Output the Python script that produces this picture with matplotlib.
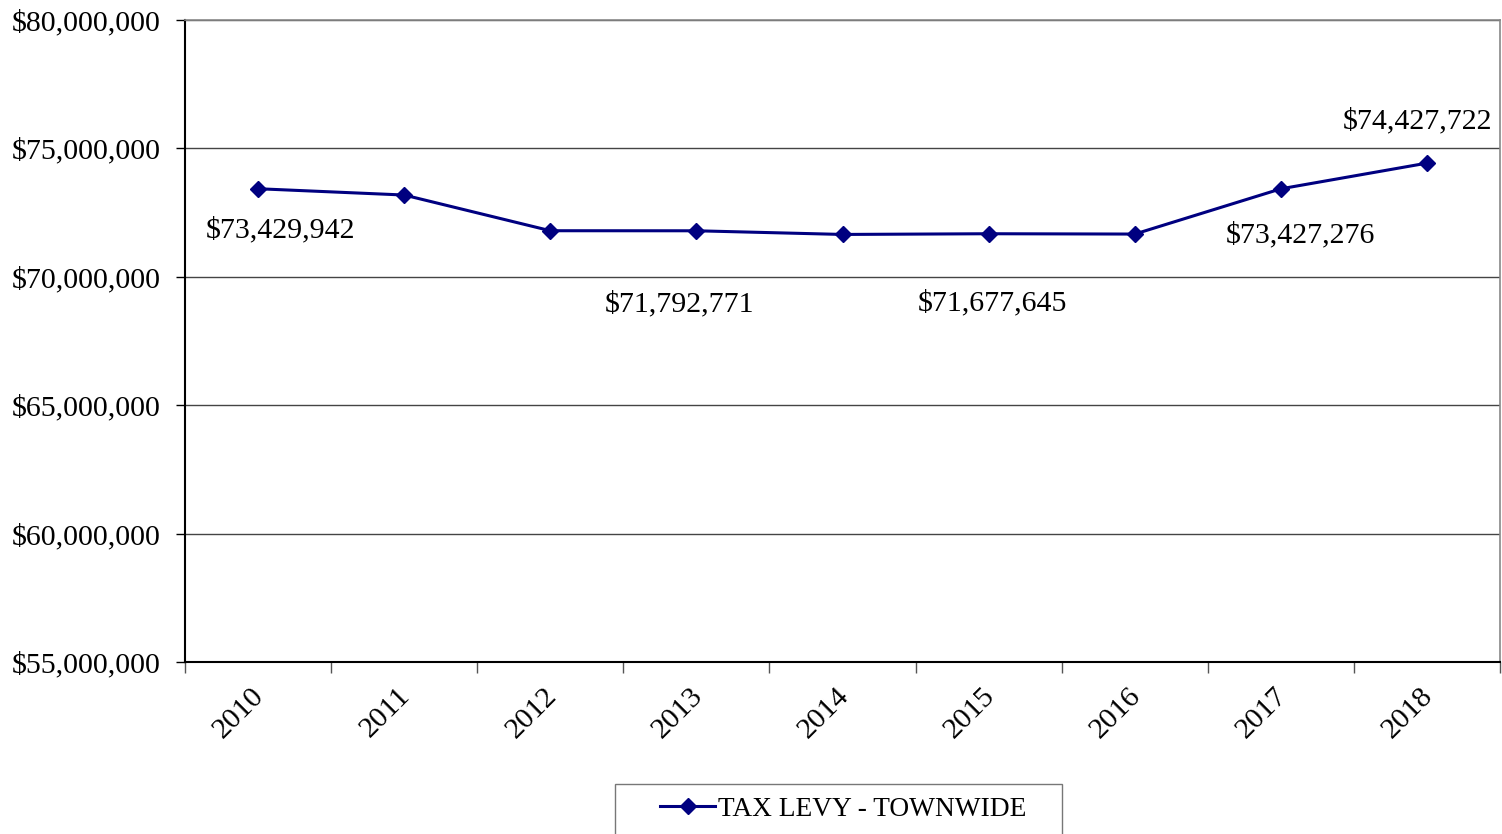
#!/usr/bin/env python3
"""Townwide tax levy by year, line chart with value callouts."""
import matplotlib.pyplot as plt
from matplotlib.patches import Rectangle
from matplotlib.ticker import FuncFormatter, MultipleLocator
from matplotlib.transforms import ScaledTranslation

years = ["2010", "2011", "2012", "2013", "2014", "2015", "2016", "2017", "2018"]
levy = [73429942, 73185000, 71795000, 71792771, 71650000, 71677645, 71665000, 73427276, 74427722]

# which points get a value callout, and where the text sits (offset in points)
callouts = {0: (16, -30), 3: (-12, -53), 5: (3, -50), 7: (14, -33), 8: (-7, 30)}

plt.rcParams["font.family"] = ["Liberation Serif", "DejaVu Serif"]
FS = 21.5

fig = plt.figure(figsize=(15.02, 8.34), dpi=100)
ax = fig.add_axes([0.1232, 0.2062, 0.8755, 0.7698])

x = list(range(len(years)))
ax.plot(x, levy, color="#000080", lw=2.2, marker="D", ms=8.5,
        label="TAX LEVY - TOWNWIDE", zorder=3)

for i, (dx, dy) in callouts.items():
    ax.annotate(f"${levy[i]:,}", (x[i], levy[i]), xytext=(dx, dy),
                textcoords="offset points", ha="center", va="center", fontsize=FS)

ax.set_xlim(-0.5, len(years) - 0.5)
ax.set_ylim(55_000_000, 80_000_000)
ax.yaxis.set_major_locator(MultipleLocator(5_000_000))
ax.yaxis.set_major_formatter(FuncFormatter(lambda v, _: f"${v:,.0f}"))
ax.tick_params(axis="y", labelsize=FS, length=6.5, width=1, direction="out", pad=11)

ax.set_xticks(x)
ax.set_xticklabels(years, rotation=45, ha="right", rotation_mode="anchor", fontsize=FS)
ax.set_xticks([i - 0.5 for i in range(len(years) + 1)], minor=True)
ax.tick_params(axis="x", which="major", length=0, pad=15)
ax.tick_params(axis="x", which="minor", length=8, width=1, color="#555555")
shift = ScaledTranslation(-0.07, 0, fig.dpi_scale_trans)
for lbl in ax.get_xticklabels():
    lbl.set_transform(lbl.get_transform() + shift)

ax.grid(axis="y", color="#444444", lw=1)
ax.set_axisbelow(True)
for side in ("top", "right"):
    ax.spines[side].set_color("#888888")
    ax.spines[side].set_linewidth(1.2)
for side in ("left", "bottom"):
    ax.spines[side].set_color("black")
    ax.spines[side].set_linewidth(1.5)

# legend entry without its own frame, boxed separately so the padding is wider
fig.legend(loc="center", bbox_to_anchor=(0.5615, 0.0295), fontsize=19.7,
           frameon=False, borderpad=0, handlelength=2.0, handletextpad=0.1,
           borderaxespad=0)
fig.patches.append(Rectangle((0.4095, -0.01), 0.2976, 0.0704, transform=fig.transFigure,
                             fill=False, edgecolor="#777777", lw=1))

fig.savefig("out.png", dpi=100)
